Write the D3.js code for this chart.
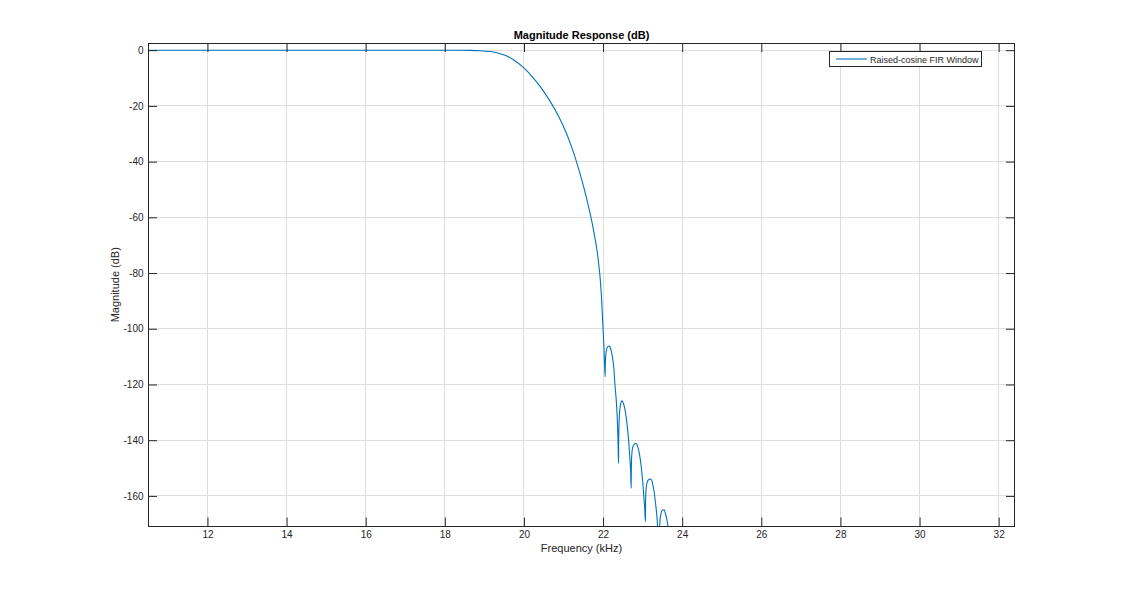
<!DOCTYPE html>
<html>
<head>
<meta charset="utf-8">
<script src="https://cdn.jsdelivr.net/npm/d3@7"></script>
<style>
  html, body { margin: 0; padding: 0; background: #ffffff; }
  svg { display: block; font-family: "Liberation Sans", Arial, Helvetica, sans-serif; }
</style>
</head>
<body>
<svg id="chart" width="1145" height="591"></svg>
<script>
// ---- Data ----
const chartTitle = "Magnitude Response (dB)";
const xLabel = "Frequency (kHz)";
const yLabel = "Magnitude (dB)";
const seriesName = "Raised-cosine FIR Window";
const xDomain = [10.51, 32.4];
const yDomain = [-170.8, 2.4];
const xTickValues = [12, 14, 16, 18, 20, 22, 24, 26, 28, 30, 32];
const yTickValues = [0, -20, -40, -60, -80, -100, -120, -140, -160];

// frequency (kHz)
const freqKHz = [
  10.51, 12, 14, 16, 17, 18, 18.4, 18.65, 18.89, 19.143, 19.312, 19.522, 19.724, 19.985,
  20.18, 20.407, 20.66, 20.895, 21.065, 21.209, 21.368, 21.52, 21.672, 21.773, 21.849,
  21.907, 21.932, 21.957, 21.982, 22.0, 22.018, 22.033, 22.051,
  22.058, 22.07, 22.09, 22.12, 22.16, 22.20, 22.24, 22.27, 22.30, 22.33, 22.355, 22.375, 22.39,
  22.395, 22.405, 22.42, 22.45, 22.48, 22.52, 22.56, 22.60, 22.64, 22.67, 22.695, 22.71,
  22.715, 22.725, 22.75, 22.79, 22.84, 22.88, 22.92, 22.96, 23.00, 23.03, 23.055, 23.07,
  23.075, 23.085, 23.11, 23.15, 23.21, 23.25, 23.29, 23.33, 23.37, 23.40, 23.41,
  23.42, 23.43, 23.45, 23.49, 23.54, 23.58, 23.62, 23.66, 23.70, 23.74
];
// magnitude (dB)
const magDB = [
  0, 0, 0, 0, 0, 0, -0.02, -0.07, -0.2, -0.5, -0.9, -1.85, -3.35, -6.18,
  -9.01, -12.98, -18.29, -24.28, -29.55, -34.88, -41.88, -49.63, -58.6, -65.64, -72.10,
  -78.92, -82.86, -87.89, -94.71, -100.08, -105.47, -110.49, -117.17,
  -112.5, -109.3, -107.4, -106.4, -106.2, -107.6, -110.4, -113.8, -120.0, -125.0, -131.0, -138.5, -148.3,
  -140.0, -133.5, -129.5, -126.6, -125.9, -127.0, -129.5, -133.5, -139.0, -145.0, -150.5, -157.2,
  -150.0, -145.5, -142.5, -141.4, -141.3, -142.5, -145.0, -149.0, -154.5, -160.0, -165.0, -169.2,
  -162.0, -158.0, -155.3, -154.2, -154.0, -155.5, -158.5, -163.0, -169.0, -180.0, -190.0,
  -180.0, -172.0, -167.5, -165.3, -165.0, -166.5, -169.0, -173.0, -180.0, -190.0
];

// ---- Layout ----
const svg = d3.select("#chart");
const plot = { left: 148.5, right: 1014.5, top: 43.5, bottom: 526 };
const axisColor = "#262626";
const gridColor = "#dedede";
const lineColor = "#0072BD";
const tickLen = 8.5;

const x = d3.scaleLinear().domain(xDomain).range([plot.left, plot.right]);
const y = d3.scaleLinear().domain(yDomain).range([plot.bottom, plot.top]);

// Grid
const grid = svg.append("g");
grid.selectAll("line.gx").data(xTickValues).join("line")
  .attr("x1", d => x(d)).attr("x2", d => x(d))
  .attr("y1", plot.top).attr("y2", plot.bottom)
  .attr("stroke", gridColor).attr("stroke-width", 1).attr("shape-rendering", "crispEdges");
grid.selectAll("line.gy").data(yTickValues).join("line")
  .attr("x1", plot.left).attr("x2", plot.right)
  .attr("y1", d => y(d)).attr("y2", d => y(d))
  .attr("stroke", gridColor).attr("stroke-width", 1).attr("shape-rendering", "crispEdges");

// Clip
svg.append("clipPath").attr("id", "clip").append("rect")
  .attr("x", plot.left).attr("y", plot.top)
  .attr("width", plot.right - plot.left).attr("height", plot.bottom - plot.top);

const data = freqKHz.map((f, i) => ({ f, v: magDB[i] }));
const line = d3.line().x(d => x(d.f)).y(d => y(d.v)).curve(d3.curveCatmullRom.alpha(0.5));
svg.append("path").datum(data)
  .attr("clip-path", "url(#clip)")
  .attr("d", line)
  .attr("fill", "none").attr("stroke", lineColor).attr("stroke-width", 1.1);

// Axes (bottom/left with labels, top/right ticks only)
function styleAxis(g, hideText) {
  g.select(".domain").remove();
  g.selectAll(".tick line").attr("stroke", axisColor).attr("stroke-width", 1);
  g.selectAll(".tick text").attr("fill", axisColor).attr("font-size", "10px")
    .attr("font-family", "'Liberation Sans', Arial, Helvetica, sans-serif");
  if (hideText) g.selectAll(".tick text").remove();
}
const fmt = d => String(d);
svg.append("g").attr("transform", `translate(0,${plot.bottom})`)
  .call(d3.axisBottom(x).tickValues(xTickValues).tickFormat(fmt).tickSizeInner(-tickLen).tickSizeOuter(0).tickPadding(5))
  .call(g => styleAxis(g, false));
svg.append("g").attr("transform", `translate(0,${plot.top})`)
  .call(d3.axisTop(x).tickValues(xTickValues).tickSizeInner(-tickLen).tickSizeOuter(0))
  .call(g => styleAxis(g, true));
svg.append("g").attr("transform", `translate(${plot.left},0)`)
  .call(d3.axisLeft(y).tickValues(yTickValues).tickFormat(fmt).tickSizeInner(-tickLen).tickSizeOuter(0).tickPadding(5))
  .call(g => styleAxis(g, false));
svg.append("g").attr("transform", `translate(${plot.right},0)`)
  .call(d3.axisRight(y).tickValues(yTickValues).tickSizeInner(-tickLen).tickSizeOuter(0))
  .call(g => styleAxis(g, true));

// Box
svg.append("rect")
  .attr("x", plot.left).attr("y", plot.top)
  .attr("width", plot.right - plot.left).attr("height", plot.bottom - plot.top)
  .attr("fill", "none").attr("stroke", axisColor).attr("stroke-width", 1)
  .attr("shape-rendering", "crispEdges");

// Title & labels
svg.append("text").attr("x", (plot.left + plot.right) / 2).attr("y", plot.top - 5)
  .attr("text-anchor", "middle").attr("font-size", "11px").attr("font-weight", "bold")
  .attr("fill", "#000").text(chartTitle);
svg.append("text").attr("x", (plot.left + plot.right) / 2).attr("y", 552)
  .attr("text-anchor", "middle").attr("font-size", "11px").attr("fill", axisColor).text(xLabel);
svg.append("text").attr("transform", `translate(119,${(plot.top + plot.bottom) / 2}) rotate(-90)`)
  .attr("text-anchor", "middle").attr("font-size", "11px").attr("fill", axisColor).text(yLabel);

// Legend
const lg = svg.append("g");
lg.append("rect").attr("x", 829.5).attr("y", 51.5).attr("width", 152).attr("height", 15)
  .attr("fill", "#fff").attr("stroke", axisColor).attr("stroke-width", 1).attr("shape-rendering", "crispEdges");
lg.append("line").attr("x1", 836).attr("x2", 867).attr("y1", 59).attr("y2", 59)
  .attr("stroke", lineColor).attr("stroke-width", 1.1);
lg.append("text").attr("x", 870).attr("y", 62.5).attr("font-size", "9px").attr("fill", axisColor).text(seriesName);
</script>
</body>
</html>
